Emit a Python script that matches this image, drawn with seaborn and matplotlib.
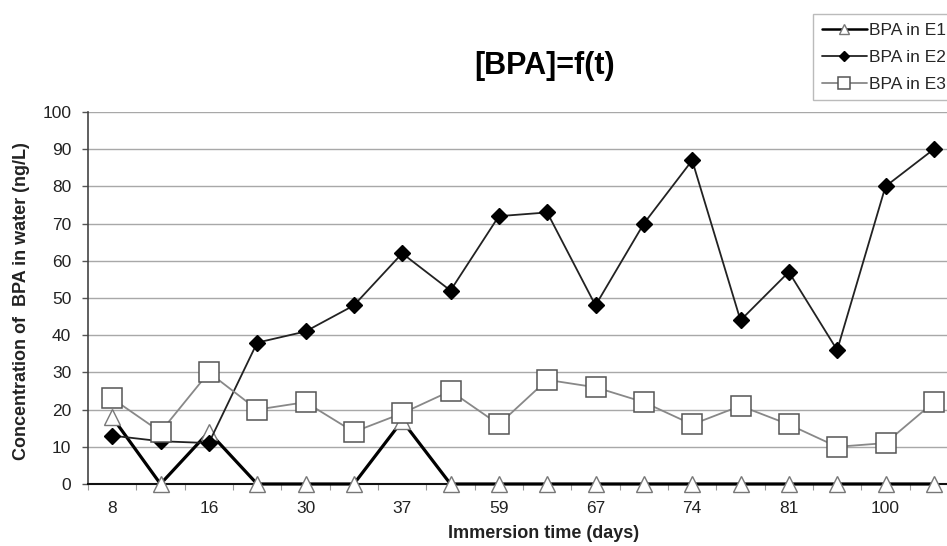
import matplotlib
matplotlib.use("Agg")
import matplotlib.pyplot as plt
from matplotlib.lines import Line2D
from matplotlib.ticker import FixedLocator, MultipleLocator
import numpy as np
import pandas as pd
import seaborn as sns

# Sampling days (only every other sample is labelled on the axis)
day_labels = ["8", "", "16", "", "30", "", "37", "", "59", "",
              "67", "", "74", "", "81", "", "100", ""]

# BPA concentration in water (ng/L) for the three enclosures
bpa_e1 = [18, 0, 14, 0, 0, 0, 17, 0, 0, 0, 0, 0, 0, 0, 0, 0, 0, 0]
bpa_e2 = [13, 11.5, 11, 38, 41, 48, 62, 52, 72, 73, 48, 70, 87, 44, 57, 36, 80, 90]
bpa_e3 = [23, 14, 30, 20, 22, 14, 19, 25, 16, 28, 26, 22, 16, 21, 16, 10, 11, 22]

series_names = ["BPA in E1", "BPA in E2", "BPA in E3"]

sns.set_theme(style="white")
plt.rcParams["font.family"] = ["Liberation Sans", "DejaVu Sans"]

pos = np.arange(len(day_labels))
df = pd.DataFrame({
    "pos": np.tile(pos, 3),
    "value": bpa_e1 + bpa_e2 + bpa_e3,
    "series": np.repeat(series_names, len(pos)),
})

fig = plt.figure(figsize=(9.47, 5.46), dpi=100)
W, H = 947, 546
left, right, top, bottom = 88, 958, 112, 484
ax = fig.add_axes([left / W, 1 - bottom / H, (right - left) / W, (bottom - top) / H])

styles = {
    "BPA in E1": dict(color="black", lw=2.3, marker="^", markersize=11,
                      markerfacecolor="white", markeredgecolor="#777777", markeredgewidth=1.0),
    "BPA in E2": dict(color="#222222", lw=1.3, marker="D", markersize=8.5,
                      markerfacecolor="black", markeredgecolor="black", markeredgewidth=1.0),
    "BPA in E3": dict(color="#888888", lw=1.3, marker="s", markersize=14,
                      markerfacecolor="white", markeredgecolor="#555555", markeredgewidth=1.1),
}

for i, name in enumerate(series_names):
    sub = df[df["series"] == name]
    sns.lineplot(data=sub, x="pos", y="value", ax=ax, legend=False,
                 zorder=3 + i, clip_on=False, **styles[name])

ax.set_xlim(-0.5, len(day_labels) - 0.5)
ax.set_ylim(0, 100)
ax.yaxis.set_major_locator(MultipleLocator(10))
ax.grid(axis="y", color="#a8a8a8", lw=1.0)
ax.grid(axis="x", visible=False)

ax.set_xticks(pos)
ax.set_xticklabels(day_labels)
ax.xaxis.set_minor_locator(FixedLocator(np.arange(-0.5, len(day_labels), 1.0)))
ax.tick_params(axis="x", which="major", length=0, pad=12, labelsize=12.5, labelcolor="#222222")
ax.tick_params(axis="x", which="minor", bottom=True, length=4, width=0.8, color="#999999", direction="out")
ax.tick_params(axis="y", left=True, length=4, width=1, color="#555555", direction="out",
               pad=8, labelsize=12.5, labelcolor="#222222")

for s in ["top", "right"]:
    ax.spines[s].set_visible(False)
ax.spines["left"].set_color("#444444")
ax.spines["left"].set_linewidth(1.2)
ax.spines["bottom"].set_color("#111111")
ax.spines["bottom"].set_linewidth(1.5)

ax.set_xlabel("")
ax.set_ylabel("")
fig.text(22 / W, 1 - 301 / H, "Concentration of  BPA in water (ng/L)", rotation=90,
         ha="center", va="center", fontsize=13, fontweight="bold", color="#222222")
fig.text(544 / W, 1 - 533 / H, "Immersion time (days)", ha="center", va="center",
         fontsize=13, fontweight="bold", color="#222222")
fig.text(545 / W, 1 - 66 / H, "[BPA]=f(t)", ha="center", va="center",
         fontsize=22, fontweight="bold", color="black")

handles = [Line2D([0], [0], **{**styles[n], "markersize": styles[n]["markersize"] * 0.6,
                               "lw": min(styles[n]["lw"], 1.8)}) for n in series_names]
leg = fig.legend(handles, series_names, loc="upper left",
                 bbox_to_anchor=(813 / W, 1 - 14 / H), bbox_transform=fig.transFigure,
                 fontsize=12.5, frameon=True, fancybox=False, handlelength=2.6,
                 handletextpad=0.1, labelspacing=0.68, borderpad=0.5, borderaxespad=0)
leg.get_frame().set_edgecolor("#aaaaaa")
leg.get_frame().set_linewidth(1.0)

fig.savefig("out.png", dpi=100)
